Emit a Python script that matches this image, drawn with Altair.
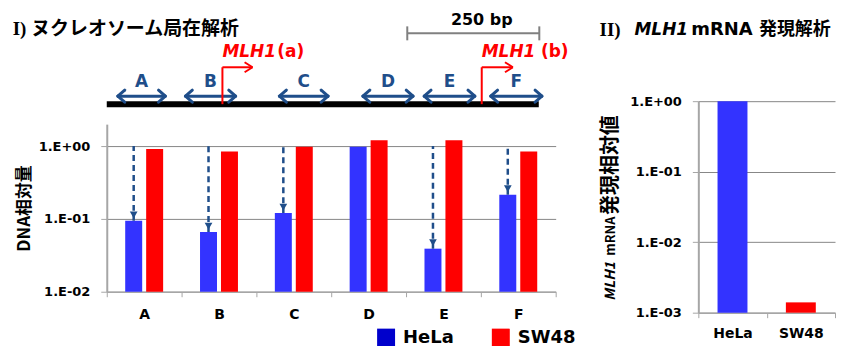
import altair as alt
import pandas as pd

# ---------------- data ----------------
REGIONS = ["A", "B", "C", "D", "E", "F"]
SERIES = ["HeLa", "SW48"]
HELA_DNA = [0.094, 0.066, 0.12, 0.98, 0.039, 0.215]
SW48_DNA = [0.91, 0.84, 0.98, 1.2, 1.2, 0.84]
ARROW_REGIONS = ["A", "B", "C", "E", "F"]
ARROW_FROM = 1.0

MRNA_CELLS = ["HeLa", "SW48"]
MRNA_VALUES = [1.0, 0.0014]

DNA_TICKS = [0.01, 0.1, 1.0]
DNA_TICK_LABELS = ["1.E-02", "1.E-01", "1.E+00"]
DNA_MIN, DNA_MAX = 0.01, 2
MRNA_TICKS = [0.001, 0.01, 0.1, 1.0]
MRNA_TICK_LABELS = ["1.E-03", "1.E-02", "1.E-01", "1.E+00"]
MRNA_MIN, MRNA_MAX = 0.001, 1

# promoter map, positions in bp
SEG_LABELS = ["A", "B", "C", "D", "E", "F"]
SEG_START = [21, 149, 327, 485, 601, 727]
SEG_END = [111, 244, 419, 580, 697, 824]
BACKBONE = [0, 818]
TSS_GENE = "MLH1"
TSS_NAMES = ["(a)", "(b)"]
TSS_POS = [219, 710]
TSS_TIP = [276, 769]
TSS_SUFFIX_POS = [323, 822]
SCALE_BAR = [569, 819]
SCALE_LABEL = "250 bp"
SCALE_LABEL_POS = 710

TITLE_1 = "I) ヌクレオソーム局在解析"
TITLE_2 = ["II)", "MLH1", "mRNA 発現解析"]
YTITLE_1 = "DNA相対量"
YTITLE_2 = ["MLH1", "mRNA", "発現相対値"]

# ---------------- styles ----------------
FONT = "DejaVu Sans"
CJK = "Noto Sans CJK JP"
SERIF = "Liberation Serif, Noto Sans CJK JP"
BAR_COLORS = ["#3333FF", "#FF0000"]
LEGEND_COLORS = ["#0000CC", "#FF0000"]
NAVY = "#1F4E8A"
RED = "#FF0000"

# diagram vertical levels (diagram units)
LV_LINE, LV_ARROW, LV_LABEL, LV_BEND, LV_TSS_TEXT = 6, 14, 28, 43, 58
LV_SCALE, LV_SCALE_TEXT, LV_TITLE = 77, 90, 81
HEAD_X, HEAD_Y = 13, 6
TSS_HEAD_X, TSS_HEAD_Y = 15, 5


def label_expr(vals, labels):
    return "".join(
        f"abs(datum.value - {v}) < {v / 100} ? '{l}' : " for v, l in zip(vals, labels)
    ) + "''"


# ---------------- left panel: DNA bars ----------------
W_L, H_L = 450, 282
bar_df = pd.DataFrame({
    "region": REGIONS * 2,
    "cell": ["HeLa"] * len(REGIONS) + ["SW48"] * len(REGIONS),
    "value": HELA_DNA + SW48_DNA,
    "base": [DNA_MIN] * (2 * len(REGIONS)),
})
hela_map = dict(zip(REGIONS, HELA_DNA))
arrow_df = pd.DataFrame({
    "region": ARROW_REGIONS,
    "cell": ["HeLa"] * len(ARROW_REGIONS),
    "top": [ARROW_FROM] * len(ARROW_REGIONS),
    "value": [hela_map[r] for r in ARROW_REGIONS],
})

x_l = alt.X("region:N", sort=REGIONS,
            scale=alt.Scale(paddingInner=0, paddingOuter=0),
            axis=alt.Axis(title=None, labelAngle=0, tickBand="extent", labelFontSize=14,
                          tickSize=5, labelPadding=11, domainWidth=1.5))
xo_l = alt.XOffset("cell:N", scale=alt.Scale(domain=SERIES, paddingInner=0.19, paddingOuter=0.88))
y_l = alt.Y("value:Q",
            scale=alt.Scale(type="log", domain=[DNA_MIN, DNA_MAX], range=[H_L, 114], nice=False),
            axis=alt.Axis(values=DNA_TICKS, labelExpr=label_expr(DNA_TICKS, DNA_TICK_LABELS),
                          grid=True, tickSize=6, labelPadding=11, domainWidth=2,
                          title=YTITLE_1, titleFont=CJK, titleFontSize=17,
                          titleFontWeight="bold", titleColor="black", titlePadding=5))
color = alt.Color("cell:N", scale=alt.Scale(domain=SERIES, range=BAR_COLORS), legend=None)

bars = alt.Chart(bar_df).mark_bar().encode(
    x=x_l, xOffset=xo_l, y=y_l, y2=alt.Y2("base:Q"), color=color)
rules = alt.Chart(arrow_df).mark_rule(color=NAVY, strokeWidth=2.5, strokeDash=[6, 4]).encode(
    x=x_l, xOffset=xo_l, y=y_l, y2=alt.Y2("top:Q"))
heads = alt.Chart(arrow_df).mark_point(shape="triangle-down", filled=True, size=60,
                                       color=NAVY, opacity=1, yOffset=-6).encode(
    x=x_l, xOffset=xo_l, y=y_l)
bars_group = alt.layer(bars, rules, heads)

# ---------------- promoter diagram ----------------
dx = alt.X("x:Q", scale=alt.Scale(domain=[0, 850], nice=False, zero=False), axis=None)
dy = alt.Y("y:Q", scale=alt.Scale(domain=[0, 100], range=[100, 0], nice=False, zero=False), axis=None)


def segs(rows, col, width, cap="butt"):
    df = pd.DataFrame(rows, columns=["x", "y", "x2", "y2"])
    return alt.Chart(df).mark_rule(color=col, strokeWidth=width, strokeCap=cap).encode(
        x=dx, y=dy, x2=alt.X2("x2:Q"), y2=alt.Y2("y2:Q"))


backbone = segs([(BACKBONE[0], LV_LINE, BACKBONE[1], LV_LINE)], "black", 6)

shaft_rows, head_rows = [], []
for s, e in zip(SEG_START, SEG_END):
    shaft_rows.append((s + 2, LV_ARROW, e - 2, LV_ARROW))
    for sign in (1, -1):
        head_rows.append((s, LV_ARROW, s + HEAD_X, LV_ARROW + sign * HEAD_Y))
        head_rows.append((e, LV_ARROW, e - HEAD_X, LV_ARROW + sign * HEAD_Y))
shafts = segs(shaft_rows, NAVY, 3)
seg_heads = segs(head_rows, NAVY, 3, "round")

tss_rows = []
for p, t in zip(TSS_POS, TSS_TIP):
    tss_rows.append((p, LV_LINE, p, LV_BEND))
    tss_rows.append((p, LV_BEND, t, LV_BEND))
    for sign in (1, -1):
        tss_rows.append((t, LV_BEND, t - TSS_HEAD_X, LV_BEND + sign * TSS_HEAD_Y))
tss = segs(tss_rows, RED, 2)

scale_rows = [(SCALE_BAR[0], LV_SCALE, SCALE_BAR[1], LV_SCALE),
              (SCALE_BAR[0], LV_SCALE - 7, SCALE_BAR[0], LV_SCALE + 7),
              (SCALE_BAR[1], LV_SCALE - 7, SCALE_BAR[1], LV_SCALE + 7)]
scalebar = segs(scale_rows, "#808080", 2)

seg_text = alt.Chart(pd.DataFrame({
    "x": [(s + e) / 2 for s, e in zip(SEG_START, SEG_END)],
    "y": [LV_LABEL] * len(SEG_LABELS), "t": SEG_LABELS,
})).mark_text(font=FONT, fontSize=17, fontWeight="bold", color=NAVY).encode(x=dx, y=dy, text="t:N")

tss_gene = alt.Chart(pd.DataFrame({
    "x": TSS_POS, "y": [LV_TSS_TEXT] * len(TSS_POS), "t": [TSS_GENE] * len(TSS_POS),
})).mark_text(font=FONT, fontSize=17, fontWeight="bold", fontStyle="italic", color=RED,
              align="left").encode(x=dx, y=dy, text="t:N")
tss_suffix = alt.Chart(pd.DataFrame({
    "x": TSS_SUFFIX_POS, "y": [LV_TSS_TEXT] * len(TSS_POS), "t": TSS_NAMES,
})).mark_text(font=FONT, fontSize=17, fontWeight="bold", color=RED,
              align="left").encode(x=dx, y=dy, text="t:N")
scale_text = alt.Chart(pd.DataFrame({
    "x": [SCALE_LABEL_POS], "y": [LV_SCALE_TEXT], "t": [SCALE_LABEL],
})).mark_text(font=FONT, fontSize=16, fontWeight="bold", color="black").encode(x=dx, y=dy, text="t:N")
title1 = alt.Chart(pd.DataFrame({
    "x": [-178], "y": [LV_TITLE], "t": [TITLE_1],
})).mark_text(font=SERIF, fontSize=19, fontWeight="bold", color="black",
              align="left").encode(x=dx, y=dy, text="t:N")

diagram_group = alt.layer(backbone, shafts, seg_heads, tss, scalebar,
                          seg_text, tss_gene, tss_suffix, scale_text, title1)

legend_layer = alt.Chart(bar_df).transform_filter("false").mark_square(
    filled=True, opacity=1).encode(
    fill=alt.Fill("cell:N", scale=alt.Scale(domain=SERIES, range=LEGEND_COLORS),
                  legend=alt.Legend(orient="none", legendX=271, legendY=319,
                                    direction="horizontal", title=None,
                                    symbolType="square", symbolSize=324,
                                    symbolStrokeWidth=0, symbolOpacity=1,
                                    labelFont=FONT, labelFontSize=18,
                                    labelFontWeight="bold", labelColor="black",
                                    labelOffset=8, columnPadding=38, padding=0)))

left = alt.layer(bars_group, diagram_group, legend_layer).resolve_scale(
    x="independent", y="independent").properties(width=W_L, height=H_L)

# ---------------- right panel: mRNA ----------------
W_R, H_R = 137, 303
mrna_df = pd.DataFrame({"cell": MRNA_CELLS, "value": MRNA_VALUES,
                        "base": [MRNA_MIN] * len(MRNA_CELLS)})
x_r = alt.X("cell:N", sort=MRNA_CELLS, scale=alt.Scale(paddingInner=0, paddingOuter=0),
            axis=alt.Axis(title=None, labelAngle=0, tickBand="extent", tickSize=5,
                          labelFontSize=14, labelPadding=9, domainWidth=1.5))
y_r = alt.Y("value:Q",
            scale=alt.Scale(type="log", domain=[MRNA_MIN, MRNA_MAX], range=[H_R, 91], nice=False),
            axis=alt.Axis(values=MRNA_TICKS, labelExpr=label_expr(MRNA_TICKS, MRNA_TICK_LABELS),
                          grid=True, tickSize=6, labelPadding=11, domainWidth=2, title=None))
rbars = alt.Chart(mrna_df).mark_bar(size=30).encode(
    x=x_r, y=y_r, y2=alt.Y2("base:Q"), color=color)


def ptext(t, x, y, font, size, style="normal", angle=0):
    return alt.Chart(pd.DataFrame({"t": [t]})).mark_text(
        font=font, fontSize=size, fontWeight="bold", fontStyle=style, color="black",
        align="left", baseline="middle", angle=angle).encode(
        text="t:N", x=alt.value(x), y=alt.value(y))


right_texts = [
    ptext(TITLE_2[0], -99, 20, SERIF, 19),
    ptext(TITLE_2[1], -64, 20, FONT, 17, "italic"),
    ptext(TITLE_2[2], -7, 20, FONT + ", " + CJK, 18),
    ptext(YTITLE_2[0], -88, 291, CJK, 14, "italic", 270),
    ptext(YTITLE_2[1], -88, 246, CJK, 13, "normal", 270),
    ptext(YTITLE_2[2], -88, 205, CJK, 20, "normal", 270),
]
right = alt.layer(rbars, *right_texts).properties(width=W_R, height=H_R)

chart = alt.hconcat(left, right, spacing=143, bounds="flush").resolve_legend(
    fill="independent").properties(
    padding={"left": 4, "top": 2, "right": 0, "bottom": 0}
).configure_view(strokeWidth=0).configure_axis(
    labelFont=FONT, labelFontSize=13, labelFontWeight="bold", labelColor="black",
    domainColor="#A6A6A6", tickColor="#A6A6A6", gridColor="#878787", gridWidth=1,
)

chart.save("out.html", embed_options={"renderer": "svg", "actions": False})
